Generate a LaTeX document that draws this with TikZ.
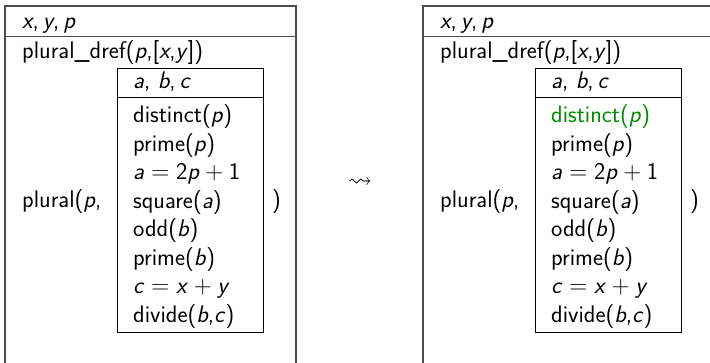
\documentclass[tikz,border=0pt]{standalone}
\usepackage{amssymb}
\newcommand{\vv}[1]{\textit{#1}}
\begin{document}
\begin{tikzpicture}[x=1pt,y=-1pt,
  txt/.style={anchor=base west,inner sep=0pt,font=\sffamily\fontsize{24}{28.5}\selectfont},
  outerline/.style={draw=black!70,line width=1.6pt},
  innerline/.style={draw=black,line width=1pt}]
\useasboundingbox (0,0) rectangle (710,362);
\foreach \o/\col in {0/black,418/green!55!black}{
  \draw[outerline] (\o+5,380) -- (\o+5,6) -- (\o+296,6) -- (\o+296,380);
  \draw[outerline] (\o+5,36.5) -- (\o+296,36.5);
  \draw[innerline] (\o+117,68) rectangle (\o+263,332);
  \draw[innerline] (\o+117,97.5) -- (\o+263,97.5);
  \node[txt] (xyp\o) at (\o+22,28.5) {\vv{x},\,\vv{y},\,\vv{p}};
  \node[txt] (dref\o) at (\o+22,58) {plural\_dref(\vv{p},[\vv{x},\vv{y}])};
  \node[txt] (abc\o) at (\o+133,88) {\vv{a}, \vv{b},\,\vv{c}};
  \node[txt,text=\col] (r1\o) at (\o+133,122.5) {distinct(\vv{p})};
  \node[txt] (r2\o) at (\o+133,151) {prime(\vv{p})};
  \node[txt] (r3\o) at (\o+133,179.5) {\vv{a}${}={}$2\vv{p}${}+{}$1};
  \node[txt] (r4\o) at (\o+133,208) {square(\vv{a})};
  \node[txt] (r5\o) at (\o+133,236.5) {odd(\vv{b})};
  \node[txt] (r6\o) at (\o+133,265) {prime(\vv{b})};
  \node[txt] (r7\o) at (\o+133,293.5) {\vv{c}${}={}$\vv{x}${}+{}$\vv{y}};
  \node[txt] (r8\o) at (\o+133,322) {divide(\vv{b},\vv{c})};
  \node[txt] (pl\o) at (\o+22,207) {plural(\vv{p},};
  \node[txt] (cl\o) at (\o+272,207) {)};
}
\node[inner sep=0pt,font=\fontsize{24}{28.5}\selectfont] (arr) at (360,183) {$\leadsto$};
\end{tikzpicture}
\end{document}
